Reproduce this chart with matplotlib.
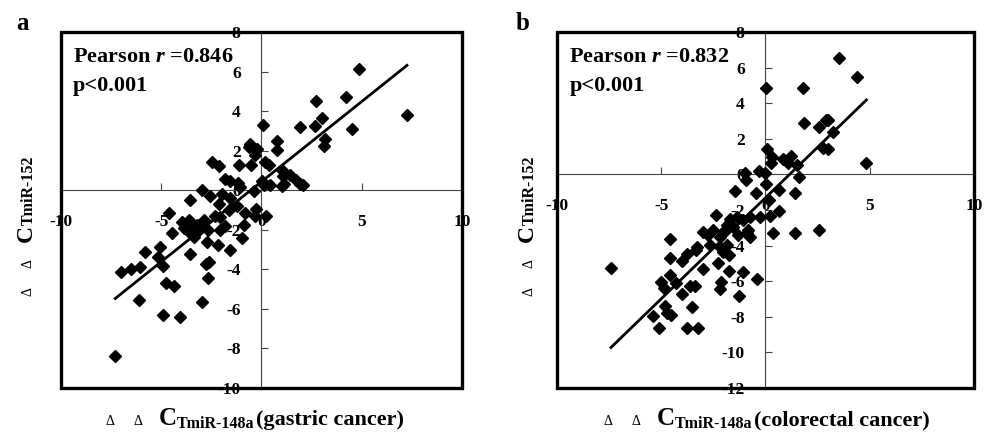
import numpy as np
import matplotlib
matplotlib.use("Agg")
import matplotlib.pyplot as plt
from matplotlib.patches import Rectangle
from matplotlib.transforms import Affine2D

plt.rcParams['font.family'] = ['Liberation Serif', 'DejaVu Serif']
plt.rcParams['mathtext.fontset'] = 'custom'
plt.rcParams['mathtext.rm'] = 'Liberation Serif:bold'
plt.rcParams['mathtext.it'] = 'Liberation Serif:italic:bold'
plt.rcParams['mathtext.bf'] = 'Liberation Serif:bold'

# ddCt values, miR-148a (x) vs miR-152 (y)
gastric_x = [4.88, 7.26, 2.72, 4.23, 4.51, 2.69, 3.00, 3.18, 3.13, 1.90,
             0.09, 0.80, 0.80, -0.59, -0.64, -0.22, -0.30, -0.51, -1.14, -2.47,
             -2.10, 0.16, 0.36, 1.02, 1.40, 1.07, 1.13, 1.74, 1.90, 2.07,
             1.02, 0.41, 0.11, 0.02, -0.39, -1.80, -1.56, -1.17, -1.09, -2.97,
             -2.55, -1.97, -1.59, -3.55, -2.14, -1.22, -1.64, -0.26, -0.84, -2.30,
             -2.09, -0.31, 0.22, -4.63, -3.96, -3.60, -3.88, -3.47, -3.22, -2.85,
             -2.69, -3.55, -3.38, -3.10, -2.05, -1.80, -0.89, -0.97, -4.46, -2.72,
             -2.17, -1.59, -3.55, -5.79, -5.04, -5.18, -4.91, -6.04, -6.49, -7.01,
             -2.64, -2.75, -2.67, -4.77, -4.35, -6.13, -2.97, -4.91, -4.05, -7.29]
gastric_y = [6.14, 3.82, 4.53, 4.70, 3.09, 3.26, 3.65, 2.59, 2.22, 3.18,
             3.31, 2.47, 2.02, 2.35, 2.19, 2.10, 1.80, 1.28, 1.28, 1.43,
             1.24, 1.43, 1.26, 1.04, 0.79, 0.70, 0.32, 0.50, 0.32, 0.25,
             0.20, 0.28, 0.28, 0.45, -0.05, 0.55, 0.47, 0.36, 0.14, 0.03,
             -0.27, -0.19, -0.39, -0.48, -0.70, -0.82, -0.99, -0.95, -1.15, -1.32,
             -1.35, -1.28, -1.32, -1.15, -1.62, -1.49, -1.91, -1.86, -1.78, -1.49,
             -1.99, -2.16, -2.36, -2.02, -1.99, -1.83, -1.74, -2.42, -2.16, -2.64,
             -2.75, -3.04, -3.23, -3.13, -2.87, -3.38, -3.85, -3.90, -3.98, -4.14,
             -3.64, -3.71, -4.44, -4.69, -4.83, -5.54, -5.65, -6.33, -6.43, -8.40]

crc_x = [3.54, 4.41, 0.02, 1.81, 1.84, 2.57, 2.89, 3.00, 3.24, 2.76,
         3.00, 4.84, 0.09, 0.29, 0.26, 0.86, 1.06, 1.22, 1.49, 1.62,
         1.41, 0.63, -0.29, -0.02, 0.02, -0.96, -0.95, -1.46, -0.47, 0.18,
         0.66, 0.21, 0.37, 1.41, 2.56, -0.26, -0.74, -1.06, -1.38, -1.70,
         -2.39, -1.86, -1.54, -1.30, -0.90, -0.74, -2.98, -2.74, -2.50, -2.18,
         -2.66, -2.18, -1.86, -2.02, -1.73, -3.30, -3.33, -3.74, -4.57, -4.57,
         -4.01, -2.29, -2.98, -1.75, -1.06, -0.42, -4.57, -5.02, -4.89, -4.28,
         -4.01, -3.61, -3.38, -2.15, -2.18, -1.25, -4.84, -4.73, -4.54, -3.50,
         -5.40, -5.10, -3.78, -3.22, -7.41, -2.02, -0.85]
crc_y = [6.55, 5.49, 4.83, 4.83, 2.87, 2.64, 3.05, 3.05, 2.36, 1.46,
         1.42, 0.62, 1.42, 0.99, 0.67, 0.86, 0.62, 1.05, 0.52, -0.17,
         -1.07, -0.88, 0.19, 0.06, -0.51, 0.06, -0.32, -0.92, -1.07, -1.44,
         -2.04, -2.32, -3.31, -3.31, -3.13, -2.38, -2.38, -2.57, -2.38, -2.53,
         -2.28, -2.85, -2.94, -3.41, -3.31, -3.50, -3.22, -3.41, -3.13, -3.50,
         -3.97, -4.06, -3.97, -4.34, -4.53, -4.06, -4.25, -4.48, -3.65, -4.70,
         -4.89, -4.98, -5.32, -5.41, -5.49, -5.86, -5.67, -6.03, -6.40, -6.12,
         -6.72, -6.27, -6.27, -6.03, -6.46, -6.82, -7.40, -7.81, -7.90, -7.43,
         -7.96, -8.65, -8.60, -8.60, -5.24, -3.22, -3.13]

x_ticks = [-10, -5, 0, 5, 10]
gastric_yticks = [-10, -8, -6, -4, -2, 0, 2, 4, 6, 8]
crc_yticks = [-12, -10, -8, -6, -4, -2, 0, 2, 4, 6, 8]

panels = [
    dict(tag='a', x=gastric_x, y=gastric_y, yticks=gastric_yticks, r='0.846',
         cancer='(gastric cancer)', rect=[0.0616, 0.110, 0.405, 0.8165],
         tag_x=0.016, ylab_x=0.0323, xlab_c=0.257),
    dict(tag='b', x=crc_x, y=crc_y, yticks=crc_yticks, r='0.832',
         cancer='(colorectal cancer)', rect=[0.5626, 0.110, 0.4212, 0.8165],
         tag_x=0.521, ylab_x=0.538, xlab_c=0.774),
]

fig = plt.figure(figsize=(9.9, 4.36), dpi=100)
renderer = fig.canvas.get_renderer()


def run_text(x, y, pieces, rotation=0):
    """lay out a row of differently sized text pieces centred on (x, y)"""
    parts = []
    for s, size, weight, sub, gap in pieces:
        t = fig.text(x, y, s, fontsize=size, fontweight=weight, ha='left',
                     va='baseline', rotation=rotation, rotation_mode='anchor')
        bb = t.get_window_extent(renderer)
        adv = bb.width if rotation == 0 else bb.height
        parts.append((t, adv, sub, gap))
    total = sum(p[1] + p[3] for p in parts)
    pos = -total / 2
    for t, adv, sub, gap in parts:
        if rotation == 0:
            dx, dy = pos, -sub
        else:
            dx, dy = sub, pos
        t.set_transform(fig.transFigure + Affine2D().translate(dx, dy))
        pos += adv + gap


for p in panels:
    ax = fig.add_axes(p['rect'])
    xs = np.array(p['x'])
    ys = np.array(p['y'])
    ax.plot(xs, ys, 'D', color='black', markersize=6.5, zorder=3)

    # least squares trend line over the data range
    k, b = np.polyfit(xs, ys, 1)
    xl = np.array([xs.min(), xs.max()])
    ax.plot(xl, k * xl + b, color='black', lw=2.0, zorder=3)

    ax.set_xlim(-10, 10)
    ax.set_ylim(p['yticks'][0], p['yticks'][-1])
    ax.set_xticks(x_ticks)
    ax.set_yticks(p['yticks'])
    ax.set_xticklabels([str(v) for v in x_ticks])
    ax.set_yticklabels([str(v) for v in p['yticks']])

    for side in ('left', 'bottom'):
        ax.spines[side].set_position(('data', 0))
        ax.spines[side].set_linewidth(0.8)
        ax.spines[side].set_color('#444444')
    ax.spines['top'].set_visible(False)
    ax.spines['right'].set_visible(False)
    ax.tick_params(axis='both', direction='in', length=5, width=0.8,
                   color='#444444', labelsize=12.5)
    ax.tick_params(axis='x', pad=17)
    ax.tick_params(axis='y', pad=15)
    for lab in ax.get_xticklabels() + ax.get_yticklabels():
        lab.set_fontweight('bold')

    ax.add_patch(Rectangle((0, 0), 1, 1, transform=ax.transAxes, fill=False,
                           lw=2.4, edgecolor='black', clip_on=False, zorder=4))

    ax.text(0.03, 0.915, 'Pearson $\\mathit{r}$ =' + p['r'], transform=ax.transAxes,
            fontsize=16, fontweight='bold', va='baseline')
    ax.text(0.03, 0.835, 'p<0.001', transform=ax.transAxes,
            fontsize=16, fontweight='bold', va='baseline')

    fig.text(p['tag_x'], 0.931, p['tag'], fontsize=18, fontweight='bold',
             va='baseline')

    run_text(p['xlab_c'], 0.025,
             [('Δ', 10, 'normal', 0, 19), ('Δ', 10, 'normal', 0, 17),
              ('C', 18, 'bold', 0, 0), ('TmiR-148a', 11.5, 'bold', 3, 1),
              (p['cancer'], 16, 'bold', 0, 0)])
    run_text(p['ylab_x'], 0.482,
             [('Δ', 10, 'normal', 0, 19), ('Δ', 10, 'normal', 0, 17),
              ('C', 17, 'bold', 0, 0), ('TmiR-152', 11.5, 'bold', 1, 0)],
             rotation=90)

fig.savefig('out.png', dpi=100)
